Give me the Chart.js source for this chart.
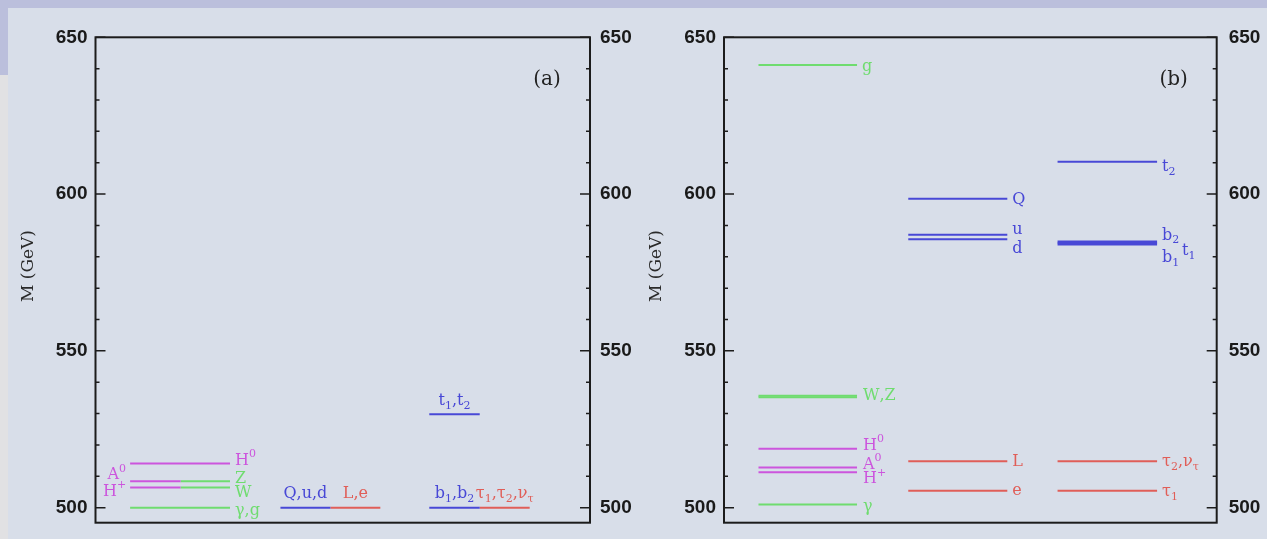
<!DOCTYPE html>
<html>
<head>
<meta charset="utf-8">
<script src="https://cdn.jsdelivr.net/npm/chart.js"></script>
<style>
  html, body { margin: 0; padding: 0; }
  body { width: 1267px; height: 539px; background: #d8dee9; position: relative; overflow: hidden; }
  .topbar { position: absolute; left: 0; top: 0; width: 1267px; height: 8px; background: #bbbfdc; }
  .sidebar { position: absolute; left: 0; top: 8px; width: 8px; height: 67px; background: #bbbfdc; }
  .sidegrey { position: absolute; left: 0; top: 75px; width: 8px; height: 464px; background: #e1e1e3; }
  canvas { position: absolute; top: 0; }
  #chartA { left: 0; }
  #chartB { left: 633px; }
</style>
</head>
<body>
<div class="topbar"></div>
<div class="sidebar"></div>
<div class="sidegrey"></div>
<canvas id="chartA" width="633" height="539"></canvas>
<canvas id="chartB" width="634" height="539"></canvas>
<script>
// mass axis (GeV)
const yMin = 495.2;
const yMax = 650;

// panel (a): levels, masses and column extents (x axis 0..100)
const aLabels = ['H^0', 'A^0', 'Z', 'H^+', 'W', 'γ,g', 'Q,u,d', 'L,e', 't_1,t_2', 'b_1,b_2', 'τ_1,τ_2,ν_τ'];
const aMass   = [514.1, 508.4, 508.4, 506.4, 506.4, 500.0, 500.0, 500.0, 529.8, 500.0, 500.0];
const aFrom   = [7, 7, 17.2, 7, 17.2, 7, 37.4, 47.5, 67.5, 67.5, 77.7];
const aTo     = [27.2, 17.2, 27.2, 17.2, 27.2, 27.2, 47.5, 57.6, 77.7, 77.7, 87.8];
const aKind   = ['higgs', 'higgs', 'gauge', 'higgs', 'gauge', 'gauge', 'squark', 'slepton', 'squark', 'squark', 'slepton'];

// panel (b)
const bLabels = ['g', 'W,Z', '', 'H^0', 'A^0', 'H^+', 'γ', 'Q', 'u', 'd', 'L', 'e', 't_2', 'b_2', 't_1', 'b_1', 'τ_2,ν_τ', 'τ_1'];
const bMass   = [641.2, 535.7, 535.2, 518.8, 512.8, 511.3, 501.0, 598.5, 587.0, 585.6, 514.8, 505.4, 610.3, 584.9, 584.4, 583.9, 514.8, 505.4];
const bFrom   = [7, 7, 7, 7, 7, 7, 7, 37.4, 37.4, 37.4, 37.4, 37.4, 67.7, 67.7, 67.7, 67.7, 67.7, 67.7];
const bTo     = [27, 27, 27, 27, 27, 27, 27, 57.5, 57.5, 57.5, 57.5, 57.5, 87.9, 87.9, 87.9, 87.9, 87.9, 87.9];
const bKind   = ['gauge', 'gauge', 'gauge', 'higgs', 'higgs', 'higgs', 'gauge', 'squark', 'squark', 'squark', 'slepton', 'slepton', 'squark', 'squark', 'squark', 'squark', 'slepton', 'slepton'];

const kindColor = { gauge: '#6fdc6f', higgs: '#cc55dd', squark: '#4848d6', slepton: '#e05e58' };

// where each label sits relative to its line
const placeA = {
  'H^0':   { at: 'end', dx: 5, dy: -3 },
  'A^0':   { at: 'start', dx: -4, dy: -6 },
  'Z':     { at: 'end', dx: 5, dy: -2 },
  'H^+':   { at: 'start', dx: -4, dy: 4 },
  'W':     { at: 'end', dx: 5, dy: 5 },
  'γ,g':   { at: 'end', dx: 5, dy: 3 },
  'Q,u,d': { at: 'mid', dx: 0, dy: -14 },
  'L,e':   { at: 'mid', dx: 0, dy: -14 },
  't_1,t_2': { at: 'mid', dx: 0, dy: -13 },
  'b_1,b_2': { at: 'mid', dx: 0, dy: -14 },
  'τ_1,τ_2,ν_τ': { at: 'mid', dx: 0, dy: -14 }
};
const placeB = {
  'g':   { at: 'end', dx: 5, dy: 2 },
  'W,Z': { at: 'end', dx: 6, dy: 0 },
  'H^0': { at: 'end', dx: 6, dy: -3 },
  'A^0': { at: 'end', dx: 6, dy: -3 },
  'H^+': { at: 'end', dx: 6, dy: 7 },
  'γ':   { at: 'end', dx: 6, dy: 2 },
  'Q':   { at: 'end', dx: 5, dy: 1 },
  'u':   { at: 'end', dx: 5, dy: -5 },
  'd':   { at: 'end', dx: 5, dy: 10 },
  'L':   { at: 'end', dx: 5, dy: 1 },
  'e':   { at: 'end', dx: 5, dy: 0 },
  't_2': { at: 'end', dx: 5, dy: 5 },
  'b_2': { at: 'end', dx: 5, dy: -6 },
  't_1': { at: 'end', dx: 25, dy: 8 },
  'b_1': { at: 'end', dx: 5, dy: 13 },
  'τ_2,ν_τ': { at: 'end', dx: 5, dy: 1 },
  'τ_1': { at: 'end', dx: 5, dy: 1 }
};

function makeDatasets(mass, from, to, kind) {
  return mass.map((m, i) => ({
    data: [{ x: from[i], y: m }, { x: to[i], y: m }],
    borderColor: kindColor[kind[i]],
    borderWidth: 2,
    pointRadius: 0,
    fill: false
  }));
}

// text with _x subscripts and ^x superscripts
function drawRich(ctx, text, x, y, align, size) {
  const parts = [];
  for (let i = 0; i < text.length; i++) {
    const c = text[i];
    if ((c === '_' || c === '^') && i + 1 < text.length) {
      parts.push({ t: text[i + 1], s: c });
      i++;
    } else {
      parts.push({ t: c, s: '' });
    }
  }
  const big = size + 'px "DejaVu Serif"';
  const small = Math.round(size * 0.68) + 'px "DejaVu Serif"';
  let w = 0;
  parts.forEach(p => {
    ctx.font = p.s ? small : big;
    p.w = ctx.measureText(p.t).width;
    w += p.w;
  });
  let cx = align === 'right' ? x - w : align === 'center' ? x - w / 2 : x;
  ctx.textAlign = 'left';
  ctx.textBaseline = 'middle';
  parts.forEach(p => {
    ctx.font = p.s ? small : big;
    const oy = p.s === '_' ? size * 0.32 : p.s === '^' ? -size * 0.38 : 0;
    ctx.fillText(p.t, cx, y + oy);
    cx += p.w;
  });
}

function decorPlugin(labels, mass, from, to, kind, place, tag, fontSize) {
  return {
    id: 'decor' + tag,
    afterDraw(chart) {
      const ctx = chart.ctx;
      const { left, right, top, bottom } = chart.chartArea;
      const xs = chart.scales.x, ys = chart.scales.y;
      ctx.save();

      // frame
      ctx.strokeStyle = '#1c1c1c';
      ctx.lineWidth = 2;
      ctx.strokeRect(left, top, right - left, bottom - top);

      // inward ticks on both sides
      ctx.lineWidth = 1.5;
      ys.ticks.forEach(t => {
        const py = ys.getPixelForValue(t.value);
        const len = t.value % 50 === 0 ? 10 : 4;
        ctx.beginPath();
        ctx.moveTo(left, py); ctx.lineTo(left + len, py);
        ctx.moveTo(right, py); ctx.lineTo(right - len, py);
        ctx.stroke();
      });

      // level labels
      labels.forEach((lab, i) => {
        if (!lab) return;
        const p = place[lab];
        const py = ys.getPixelForValue(mass[i]) + p.dy;
        let px, align;
        if (p.at === 'end') { px = xs.getPixelForValue(to[i]) + p.dx; align = 'left'; }
        else if (p.at === 'start') { px = xs.getPixelForValue(from[i]) + p.dx; align = 'right'; }
        else { px = xs.getPixelForValue((from[i] + to[i]) / 2) + p.dx; align = 'center'; }
        ctx.fillStyle = kindColor[kind[i]];
        drawRich(ctx, lab, px, py, align, fontSize);
      });

      // axis title
      ctx.fillStyle = '#2a2a2a';
      ctx.font = '17px "DejaVu Serif"';
      ctx.textAlign = 'center';
      ctx.textBaseline = 'middle';
      ctx.save();
      ctx.translate(left - 67, 266);
      ctx.rotate(-Math.PI / 2);
      ctx.fillText('M (GeV)', 0, 0);
      ctx.restore();

      // panel tag
      ctx.font = '20px "DejaVu Serif"';
      ctx.fillStyle = '#222';
      ctx.fillText('(' + tag + ')', right - 43, top + 42);
      ctx.restore();
    }
  };
}

function yAxis(position, width, pad) {
  return {
    type: 'linear',
    position: position,
    min: yMin,
    max: yMax,
    afterFit: s => {
      s.width = width;
      // first labelled tick is not at the bottom edge, so no extra room needed
      s.paddingTop = 0;
      s.paddingBottom = 0;
    },
    grid: { display: false, drawTicks: false },
    border: { display: false },
    ticks: {
      stepSize: 10,
      includeBounds: false,
      autoSkip: false,
      padding: pad,
      color: '#1a1a1a',
      font: { family: '"Liberation Sans", Arial, sans-serif', size: 19, weight: 'bold' },
      callback: v => (v % 50 === 0 ? v : '')
    }
  };
}

function buildChart(id, mass, from, to, kind, labels, place, tag, leftW, rightW, padL, padR, fontSize) {
  return new Chart(document.getElementById(id), {
    type: 'line',
    data: { datasets: makeDatasets(mass, from, to, kind) },
    options: {
      responsive: false,
      animation: false,
      devicePixelRatio: 1,
      events: [],
      layout: { padding: { top: 37.3, bottom: 16.3, left: 0, right: 0 } },
      plugins: { legend: { display: false }, tooltip: { enabled: false } },
      scales: {
        x: { type: 'linear', min: 0, max: 100, display: false },
        y: yAxis('left', leftW, padL),
        y2: yAxis('right', rightW, padR)
      }
    },
    plugins: [decorPlugin(labels, mass, from, to, kind, place, tag, fontSize)]
  });
}

buildChart('chartA', aMass, aFrom, aTo, aKind, aLabels, placeA, 'a', 95.5, 43, 8, 10, 16);
buildChart('chartB', bMass, bFrom, bTo, bKind, bLabels, placeB, 'b', 91, 50.3, 8, 12, 16);
</script>
</body>
</html>
